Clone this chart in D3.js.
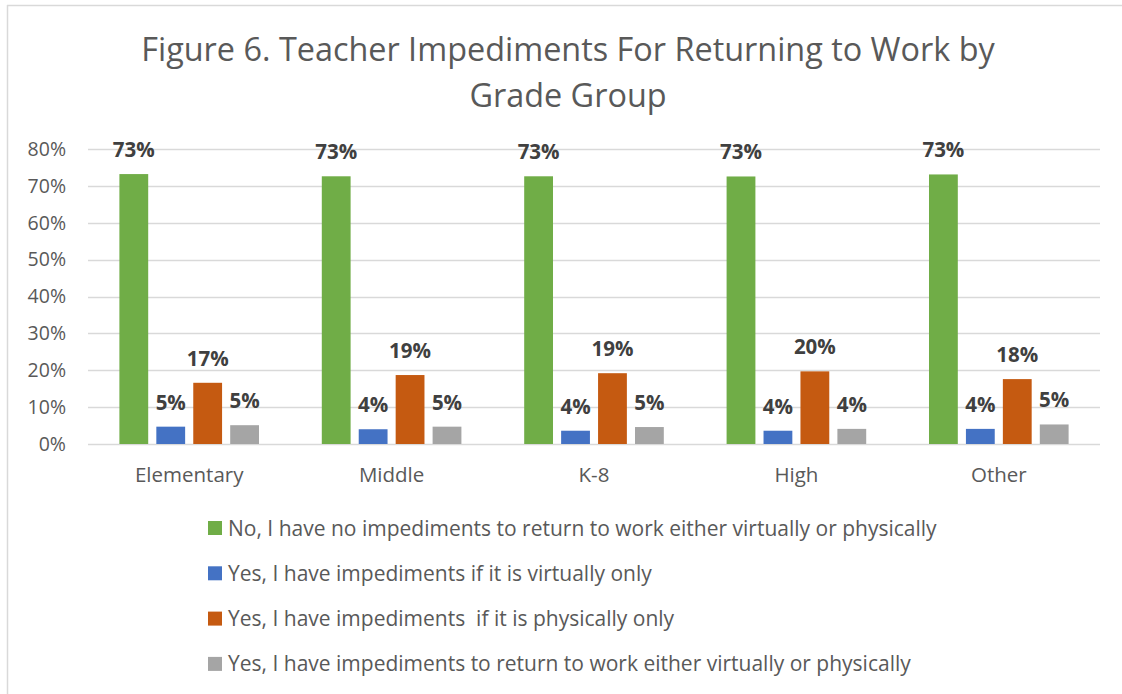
<!DOCTYPE html>
<html>
<head>
<meta charset="utf-8">
<script src="https://cdn.jsdelivr.net/npm/d3@7"></script>
<style>
  body { margin: 0; background: #fff; }
  svg { display: block; font-family: "Open Sans", sans-serif; }
</style>
</head>
<body>
<div id="chart"></div>
<script>
// Grade groups and the four answer series (fractions)
const categories = ["Elementary", "Middle", "K-8", "High", "Other"];
const seriesNames = [
  "No, I have no impediments to return to work either virtually or physically",
  "Yes, I have impediments if it is virtually only",
  "Yes, I have impediments  if it is physically only",
  "Yes, I have impediments to return to work either virtually or physically"
];
const seriesColors = ["#70ad47", "#4472c4", "#c55a11", "#a5a5a5"];
const noImpediments = [0.732, 0.726, 0.726, 0.7255, 0.731];
const virtualOnly = [0.047, 0.040, 0.036, 0.036, 0.041];
const physicalOnly = [0.166, 0.187, 0.192, 0.197, 0.176];
const eitherWay = [0.051, 0.047, 0.046, 0.041, 0.053];
const yTicks = [0, 0.1, 0.2, 0.3, 0.4, 0.5, 0.6, 0.7, 0.8];

const seriesValues = [noImpediments, virtualOnly, physicalOnly, eitherWay];

const width = 1122, height = 694;
const svg = d3.select("#chart").append("svg")
  .attr("width", width)
  .attr("height", height);

// outer chart frame (only top and left edges visible in the crop)
svg.append("line").attr("x1", 7).attr("x2", width).attr("y1", 5.5).attr("y2", 5.5)
  .attr("stroke", "#d9d9d9").attr("stroke-width", 1.5);
svg.append("line").attr("x1", 7.5).attr("x2", 7.5).attr("y1", 5).attr("y2", height)
  .attr("stroke", "#d9d9d9").attr("stroke-width", 1.5);

// title
const title = svg.append("text")
  .attr("text-anchor", "middle")
  .attr("fill", "#595959")
  .style("font-size", "32.4px");
title.append("tspan").attr("x", 568).attr("y", 61)
  .text("Figure 6. Teacher Impediments For Returning to Work by");
title.append("tspan").attr("x", 568).attr("y", 107)
  .text("Grade Group");

const x = d3.scaleBand().domain(categories).range([88, 1100]);
const xInner = d3.scaleBand().domain(d3.range(4)).range([0, x.bandwidth()])
  .paddingInner(0.22).paddingOuter(0.85);
const y = d3.scaleLinear().domain([0, 0.8]).range([444, 149]);

// gridlines
svg.append("g").selectAll("line")
  .data(yTicks)
  .join("line")
  .attr("x1", 88).attr("x2", 1100)
  .attr("y1", d => Math.round(y(d)) + 0.5).attr("y2", d => Math.round(y(d)) + 0.5)
  .attr("stroke", "#d9d9d9").attr("stroke-width", 1.5);

// y axis labels
const yAxis = svg.append("g")
  .attr("transform", "translate(66,0)")
  .call(d3.axisLeft(y).tickValues(yTicks).tickFormat(d3.format(".0%")).tickSize(0).tickPadding(0));
yAxis.select(".domain").remove();
yAxis.selectAll("text").attr("fill", "#595959").style("font-size", "19.5px")
  .style("font-family", "'Open Sans', sans-serif");

// x axis labels
const xAxis = svg.append("g")
  .attr("transform", "translate(0,467)")
  .call(d3.axisBottom(x).tickSize(0).tickPadding(0));
xAxis.select(".domain").remove();
xAxis.selectAll("text").attr("fill", "#595959").style("font-size", "20.5px")
  .style("font-family", "'Open Sans', sans-serif");

// bars
const groups = svg.append("g").selectAll("g")
  .data(categories)
  .join("g")
  .attr("transform", d => `translate(${x(d)},0)`);

groups.selectAll("rect")
  .data((d, ci) => seriesValues.map((vals, si) => ({ si, v: vals[ci] })))
  .join("rect")
  .attr("x", d => xInner(d.si))
  .attr("width", xInner.bandwidth())
  .attr("y", d => y(d.v))
  .attr("height", d => y(0) - y(d.v))
  .attr("fill", d => seriesColors[d.si]);

groups.selectAll("text.lbl")
  .data((d, ci) => seriesValues.map((vals, si) => ({ si, v: vals[ci] })))
  .join("text")
  .attr("class", "lbl")
  .attr("x", d => xInner(d.si) + xInner.bandwidth() / 2)
  .attr("y", d => y(d.v) - 17)
  .attr("text-anchor", "middle")
  .attr("fill", "#404040")
  .style("font-size", "20.5px")
  .style("font-weight", "bold")
  .text(d => d3.format(".0%")(d.v));

// legend
const legend = svg.append("g").selectAll("g")
  .data(seriesNames)
  .join("g")
  .attr("transform", (d, i) => `translate(208,${528 + i * 45.3})`);

legend.append("rect")
  .attr("x", 0).attr("y", -7)
  .attr("width", 14).attr("height", 14)
  .attr("fill", (d, i) => seriesColors[i]);

legend.append("text")
  .attr("x", 20).attr("y", 7.5)
  .attr("fill", "#595959")
  .style("font-size", "21px")
  .style("white-space", "pre")
  .attr("xml:space", "preserve")
  .text(d => d);
</script>
</body>
</html>
